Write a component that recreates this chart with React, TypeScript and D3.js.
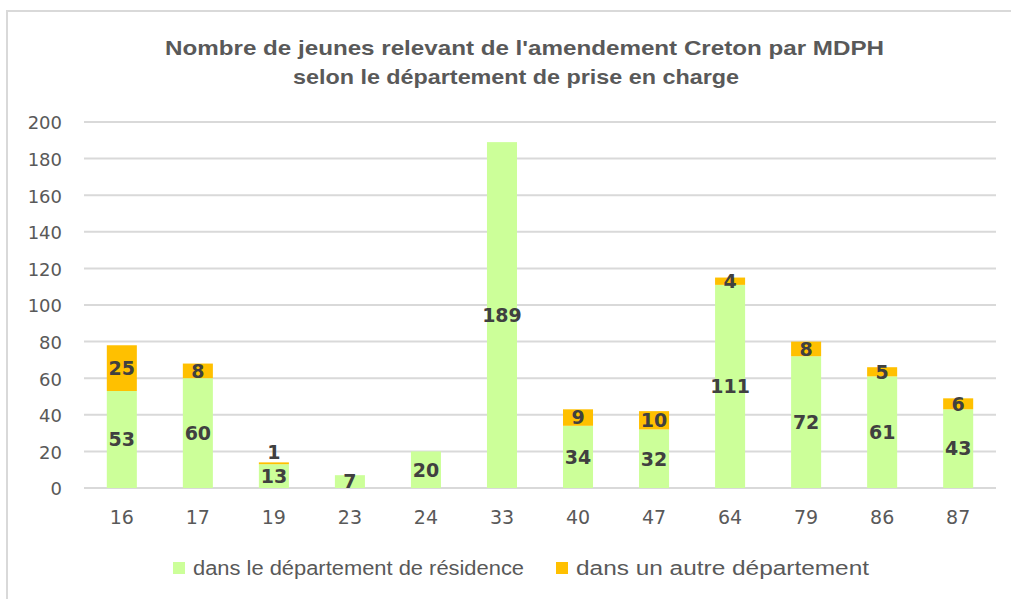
import React from "react";
import * as d3 from "d3";

const categories = ["16", "17", "19", "23", "24", "33", "40", "47", "64", "79", "86", "87"];
const residence = [53, 60, 13, 7, 20, 189, 34, 32, 111, 72, 61, 43];
const autre = [25, 8, 1, 0, 0, 0, 9, 10, 4, 8, 5, 6];
const yTicks = [0, 20, 40, 60, 80, 100, 120, 140, 160, 180, 200];
const seriesNames = ["dans le département de résidence", "dans un autre département"];
const colors = ["#ccff99", "#ffc000"];
const titleLines = [
  "Nombre de jeunes relevant de l'amendement Creton par MDPH",
  "selon le département de prise en charge",
];

const W = 1011;
const H = 599;
const FONT = "'Liberation Sans', Arial, sans-serif";
const NUMFONT = "'DejaVu Sans', Verdana, sans-serif";

export default function App() {
  const x = d3.scaleBand<string>().domain(categories).range([84, 996]).paddingInner(0.605).paddingOuter(0.3);
  const y = d3.scaleLinear().domain([0, 200]).range([488, 122]);
  const bw = x.bandwidth();

  const data = categories.map((c, i) => ({ c, r: residence[i], a: autre[i] }));
  const titleGeom = [
    { cx: 524.5, len: 719, y: 55 },
    { cx: 516, len: 446, y: 84 },
  ];
  const legendGeom = [
    { sx: 173, tx: 193, len: 331 },
    { sx: 556, tx: 576, len: 293 },
  ];

  return (
    <svg
      width={W}
      height={H}
      style={{ position: "absolute", left: 0, top: 0, background: "#fff" }}
      fontFamily={FONT}
    >
      <rect x={7} y={11} width={W + 20} height={H + 20} fill="#fff" stroke="#d9d9d9" strokeWidth={2} />
      {titleLines.map((t, i) => (
        <text
          key={i}
          x={titleGeom[i].cx}
          y={titleGeom[i].y}
          textAnchor="middle"
          fontSize={21}
          fontWeight="bold"
          fill="#595959"
          textLength={titleGeom[i].len}
          lengthAdjust="spacingAndGlyphs"
        >
          {t}
        </text>
      ))}
      {yTicks.map((t) => (
        <g key={t}>
          <line x1={84} x2={996} y1={y(t)} y2={y(t)} stroke="#d9d9d9" strokeWidth={2} />
          <text x={62} y={y(t) + 1} dy="0.36em" textAnchor="end" fontSize={18} fill="#595959" fontFamily={NUMFONT}>
            {t}
          </text>
        </g>
      ))}
      {data.map((d) => {
        const x0 = x(d.c)!;
        const cx = x0 + bw / 2;
        const smallTop = d.a > 0 && y(d.r) - y(d.r + d.a) < 4;
        return (
          <g key={d.c}>
            <rect x={x0} y={y(d.r)} width={bw} height={y(0) - y(d.r)} fill={colors[0]} />
            {d.a > 0 && (
              <rect x={x0} y={y(d.r + d.a)} width={bw} height={y(d.r) - y(d.r + d.a)} fill={colors[1]} />
            )}
            <text
              x={cx}
              y={y(d.r / 2)}
              dy="0.36em"
              textAnchor="middle"
              fontSize={19}
              fontWeight="bold"
              fill="#404040"
              fontFamily={NUMFONT}
            >
              {d.r}
            </text>
            {d.a > 0 && (
              <text
                x={cx}
                y={smallTop ? y(d.r + d.a) - 10 : y(d.r + d.a / 2)}
                dy="0.36em"
                textAnchor="middle"
                fontSize={19}
                fontWeight="bold"
                fill="#404040"
                fontFamily={NUMFONT}
              >
                {d.a}
              </text>
            )}
            <text x={cx} y={517} dy="0.36em" textAnchor="middle" fontSize={19} fill="#595959" fontFamily={NUMFONT}>
              {d.c}
            </text>
          </g>
        );
      })}
      {seriesNames.map((s, i) => (
        <g key={s}>
          <rect x={legendGeom[i].sx} y={562} width={12} height={12} fill={colors[i]} />
          <text
            x={legendGeom[i].tx}
            y={575}
            fontSize={20}
            fill="#595959"
            textLength={legendGeom[i].len}
            lengthAdjust="spacingAndGlyphs"
          >
            {s}
          </text>
        </g>
      ))}
    </svg>
  );
}
